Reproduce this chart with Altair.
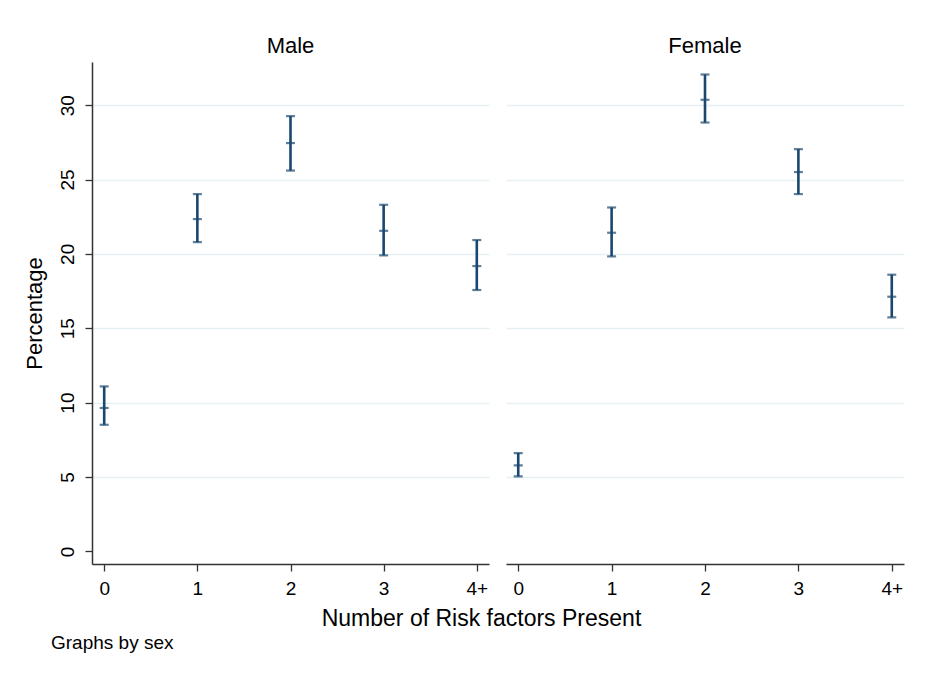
import altair as alt
import pandas as pd

categories = ["0", "1", "2", "3", "4+"]
panels = ["Male", "Female"]

male_mid = [9.64, 22.34, 27.45, 21.55, 19.18]
male_lo = [8.51, 20.79, 25.60, 19.90, 17.57]
male_hi = [11.09, 24.02, 29.26, 23.30, 20.93]

female_mid = [5.78, 21.42, 30.36, 25.50, 17.12]
female_lo = [5.04, 19.83, 28.83, 24.02, 15.73]
female_hi = [6.61, 23.12, 32.06, 27.04, 18.60]

y_ticks = [0, 5, 10, 15, 20, 25, 30]

male_df = pd.DataFrame({"risk": categories, "mid": male_mid, "lo": male_lo, "hi": male_hi})
female_df = pd.DataFrame({"risk": categories, "mid": female_mid, "lo": female_lo, "hi": female_hi})

FONT = "Liberation Sans"
NAVY = "#1a476f"
GRID = "#e6eff2"
AXC = "#333333"

y_scale = alt.Scale(domain=[-0.85, 32.9], nice=False, zero=False)
grid_color = alt.condition("datum.value == 0", alt.value("transparent"), alt.value(GRID))


def x_axis(title, title_x=None):
    kw = dict(labelAngle=0, labelFontSize=19, labelFont=FONT, labelColor="black",
              labelPadding=8, tickSize=7, tickColor=AXC, tickWidth=1.3,
              domainColor=AXC, domainWidth=1.5, grid=False)
    if title:
        kw.update(title=title, titleFontSize=23, titleFont=FONT,
                  titleFontWeight="normal", titleColor="black", titlePadding=9,
                  titleX=title_x)
    else:
        kw.update(title=None)
    return alt.Axis(**kw)


male_y_axis = alt.Axis(title="Percentage", values=y_ticks, labelAngle=270,
                       labelFontSize=19, labelFont=FONT, labelColor="black",
                       labelPadding=8, tickSize=7, tickColor=AXC, tickWidth=1.3,
                       domainColor=AXC, domainWidth=1.5,
                       titleFontSize=22, titleFont=FONT, titleFontWeight="normal",
                       titleColor="black", titlePadding=12,
                       grid=True, gridWidth=1.5, gridColor=grid_color)

female_y_axis = alt.Axis(title=None, values=y_ticks, labels=False, ticks=False,
                         domain=False, grid=True, gridWidth=1.5, gridColor=grid_color)


def panel(df, name, width, xa, ya):
    base = alt.Chart(df).encode(
        x=alt.X("risk:O", sort=categories,
                scale=alt.Scale(type="point", padding=0.131), axis=xa))
    bars = base.mark_rule(color=NAVY, strokeWidth=2.6).encode(
        y=alt.Y("lo:Q", scale=y_scale, axis=ya), y2="hi:Q")
    cap_lo = base.mark_tick(color=NAVY, size=9, thickness=2.2).encode(
        y=alt.Y("lo:Q", scale=y_scale))
    cap_hi = base.mark_tick(color=NAVY, size=9, thickness=2.2).encode(
        y=alt.Y("hi:Q", scale=y_scale))
    mid = base.mark_tick(color=NAVY, size=9, thickness=2.2).encode(
        y=alt.Y("mid:Q", scale=y_scale))
    return alt.layer(bars, cap_lo, cap_hi, mid).properties(
        width=width, height=502,
        title=alt.TitleParams(name, fontSize=22, font=FONT, fontWeight="normal",
                              color="black", anchor="middle", offset=4))


male = panel(male_df, panels[0], 397,
             x_axis("Number of Risk factors Present", title_x=389), male_y_axis)
female = panel(female_df, panels[1], 398, x_axis(None), female_y_axis)

chart = alt.hconcat(male, female, spacing=17, bounds="flush").properties(
    title=alt.TitleParams("Graphs by sex", orient="bottom", anchor="start",
                          fontSize=19, font=FONT, fontWeight="normal",
                          color="black", frame="group", dx=-41, offset=4),
    padding={"left": 22, "top": 35, "right": 26, "bottom": 12},
    background="white",
).configure_view(stroke=None)

chart.save("out.html", embed_options={"renderer": "svg", "actions": False})
